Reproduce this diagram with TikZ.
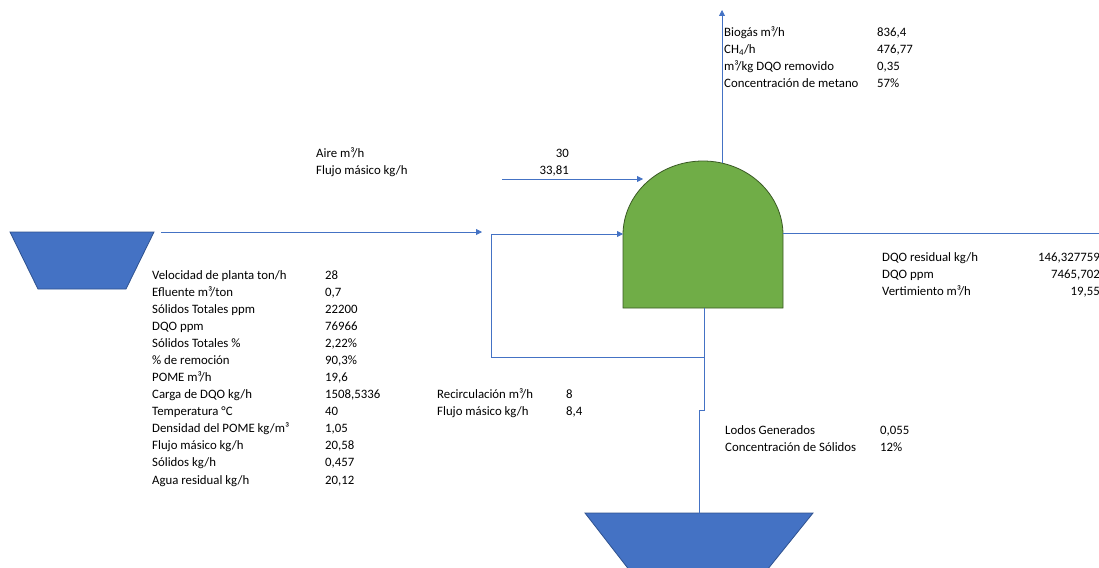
\documentclass[tikz,border=0pt]{standalone}
\usepackage{fontspec}
\setmainfont{Carlito}
\usetikzlibrary{arrows.meta}
\definecolor{flow}{HTML}{4472C4}
\definecolor{tankblue}{HTML}{4472C4}
\definecolor{tankedge}{HTML}{2F528F}
\definecolor{reactgreen}{HTML}{70AD47}
\definecolor{reactedge}{HTML}{3A5A24}
\begin{document}
\begin{tikzpicture}[x=1pt,y=-1pt,
  font=\fontsize{12.8}{15}\selectfont,
  lbl/.style={anchor=base west, inner sep=0pt},
  val/.style={anchor=base east, inner sep=0pt},
  pipe/.style={draw=flow, line width=0.8pt},
  arr/.style={pipe, -{Triangle[length=6pt,width=6pt]}},
  tank/.style={fill=tankblue, draw=tankedge, line width=0.8pt},
  reactor/.style={fill=reactgreen, draw=reactedge, line width=0.8pt}]
\useasboundingbox (0,0) rectangle (1099,567);
\clip (0,0) rectangle (1099,567);

% tanks
\draw[tank] (10,232) -- (154,232) -- (126,289) -- (38,289) -- cycle;
\draw[tank] (585,513) -- (813,513) -- (759,580) -- (637,580) -- cycle;

% reactor
\draw[reactor] (623,308) -- (623,235)
  .. controls (623,194.1) and (658.8,161) .. (703,161)
  .. controls (747.2,161) and (783,194.1) .. (783,235)
  -- (783,308) -- cycle;

% named points
\coordinate (feedA) at (161,232);
\coordinate (feedB) at (482,232);
\coordinate (airA) at (502,179);
\coordinate (airB) at (643,179);
\coordinate (rbot) at (704,308);
\coordinate (split) at (704,357);
\coordinate (rin) at (623,234);
\coordinate (loopL) at (491,357);
\coordinate (jog) at (704,410);
\coordinate (sludge) at (699,513);
\coordinate (gasA) at (722,163);
\coordinate (gasB) at (722,10);
\coordinate (effA) at (783,233);
\coordinate (effB) at (1099,233);

% connectors
\draw[arr] (feedA) -- (feedB);
\draw[arr] (airA) -- (airB);
\draw[arr] (rbot) -- (split) -- (loopL) |- (rin);
\draw[arr] (split) -- (jog) -- ++(-5,0) |- (sludge);
\draw[arr] (gasA) -- (gasB);
\draw[pipe] (effA) -- (effB);

% top table
\node[lbl] (b1) at (724,37) {Biogás m³/h};
\node[lbl] (b2) at (724,54) {CH\textsubscript{4}/h};
\node[lbl] (b3) at (724,71) {m³/kg DQO removido};
\node[lbl] (b4) at (724,88) {Concentración de metano};
\node[lbl] (bv1) at (877,37) {836,4};
\node[lbl] (bv2) at (877,54) {476,77};
\node[lbl] (bv3) at (877,71) {0,35};
\node[lbl] (bv4) at (877,88) {57\%};

% air table
\node[lbl] (a1) at (316,157) {Aire m³/h};
\node[lbl] (a2) at (316,174) {Flujo másico kg/h};
\node[val] (av1) at (569,157) {30};
\node[val] (av2) at (569,174) {33,81};

% left table
\node[lbl] (l1) at (152,279) {Velocidad de planta ton/h};
\node[lbl] (l2) at (152,296) {Efluente m³/ton};
\node[lbl] (l3) at (152,313) {Sólidos Totales ppm};
\node[lbl] (l4) at (152,330) {DQO ppm};
\node[lbl] (l5) at (152,347) {Sólidos Totales \%};
\node[lbl] (l6) at (152,364) {\% de remoción};
\node[lbl] (l7) at (152,381) {POME m³/h};
\node[lbl] (l8) at (152,398) {Carga de DQO kg/h};
\node[lbl] (l9) at (152,415) {Temperatura °C};
\node[lbl] (l10) at (152,432) {Densidad del POME kg/m³};
\node[lbl] (l11) at (152,449) {Flujo másico kg/h};
\node[lbl] (l12) at (152,466) {Sólidos kg/h};
\node[lbl] (l13) at (152,484) {Agua residual kg/h};
\node[lbl] (lv1) at (325,279) {28};
\node[lbl] (lv2) at (325,296) {0,7};
\node[lbl] (lv3) at (325,313) {22200};
\node[lbl] (lv4) at (325,330) {76966};
\node[lbl] (lv5) at (325,347) {2,22\%};
\node[lbl] (lv6) at (325,364) {90,3\%};
\node[lbl] (lv7) at (325,381) {19,6};
\node[lbl] (lv8) at (325,398) {1508,5336};
\node[lbl] (lv9) at (325,415) {40};
\node[lbl] (lv10) at (325,432) {1,05};
\node[lbl] (lv11) at (325,449) {20,58};
\node[lbl] (lv12) at (325,466) {0,457};
\node[lbl] (lv13) at (325,484) {20,12};

% recirculation table
\node[lbl] (r1) at (437,398) {Recirculación m³/h};
\node[lbl] (r2) at (437,415) {Flujo másico kg/h};
\node[lbl] (rv1) at (566,398) {8};
\node[lbl] (rv2) at (566,415) {8,4};

% right table
\node[lbl] (e1) at (882,261) {DQO residual kg/h};
\node[lbl] (e2) at (882,278) {DQO ppm};
\node[lbl] (e3) at (882,295) {Vertimiento m³/h};
\node[val] (ev1) at (1100,261) {146,327759};
\node[val] (ev2) at (1100,278) {7465,702};
\node[val] (ev3) at (1100,295) {19,55};

% sludge table
\node[lbl] (s1) at (725,434) {Lodos Generados};
\node[lbl] (s2) at (725,451) {Concentración de Sólidos};
\node[lbl] (sv1) at (880,434) {0,055};
\node[lbl] (sv2) at (880,451) {12\%};
\end{tikzpicture}
\end{document}
